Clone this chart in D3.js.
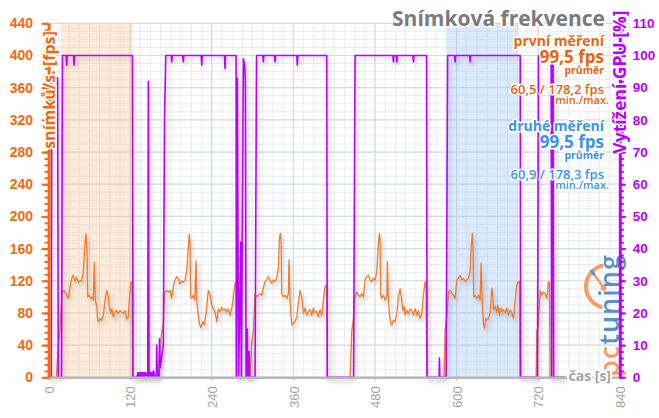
<!DOCTYPE html>
<html><head><meta charset="utf-8">
<script src="https://cdn.jsdelivr.net/npm/d3@7/dist/d3.min.js"></script>
<style>
body{margin:0;background:#fff}
svg{display:block;font-family:"Open Sans",sans-serif}
</style></head><body>
<svg id="c" width="659" height="418"></svg>
<script>
// ---------- DATA ----------
const fpsTime = [0,11.6,14.3,16.8,19.3,21.6,24.1,26.6,29.0,31.5,34.0,36.3,38.8,41.3,43.7,46.2,48.7,51.0,53.1,55.0,56.5,57.5,59.9,61.9,63.8,65.8,67.2,68.7,70.8,72.2,73.7,75.6,78.1,80.5,83.0,85.5,87.8,89.3,91.4,92.8,95.2,97.7,100.2,102.5,105.0,107.5,109.9,112.4,114.9,117.2,118.7,120.8,122.7,123.4,
161.7,163.9,166.8,168.7,170.5,172.7,176.1,178.6,181.1,183.4,185.9,188.4,190.8,193.3,195.8,198.1,200.6,203.2,205.5,207.0,208.0,209.0,210.5,212.9,214.9,216.8,217.8,219.3,221.7,223.7,226.7,228.6,231.5,234.9,237.4,239.9,242.3,244.8,247.3,249.6,252.1,254.6,257.0,259.5,262.0,264.3,266.8,269.3,271.7,274.2,275.7,276.4,
296.3,298.5,301.4,303.6,306.1,311.0,313.5,315.8,318.3,320.8,323.2,325.7,328.2,330.5,333.0,335.5,337.9,339.4,340.8,341.9,342.9,345.3,347.8,350.3,352.6,353.6,355.1,356.6,358.0,360.0,362.5,365.0,367.3,369.8,372.3,373.8,374.7,377.2,379.7,382.0,384.5,387.0,389.4,391.9,394.4,396.7,399.2,401.7,404.1,406.6,409.1,410.0,
443.4,445.9,447.8,450.7,453.2,455.6,458.1,460.6,462.9,465.4,467.9,470.3,472.8,475.3,477.6,480.1,482.6,485.0,486.5,487.5,488.5,490.0,492.4,494.9,497.4,498.2,499.7,501.2,503.2,504.7,507.1,509.6,512.1,514.4,516.9,519.4,520.9,522.8,524.3,526.8,529.1,531.6,534.1,536.5,539.0,541.5,543.8,546.3,548.8,551.2,553.7,555.2,556.2,
581.6,583.1,586.1,588.0,590.5,593.0,595.3,597.8,600.3,602.7,605.2,607.7,610.0,612.5,615.0,617.4,619.9,621.4,623.3,624.3,625.3,627.3,629.8,632.1,634.6,636.1,637.6,639.4,640.9,643.0,644.5,646.8,649.3,651.8,653.3,654.2,656.7,659.2,660.6,663.0,665.1,666.9,668.9,671.4,673.9,676.2,678.7,681.2,683.6,686.1,688.6,690.9,692.4,693.0,
717.0,718.0,719.9,722.9,725.4,727.8,730.3,732.8,735.1,736.6,737.6,759.6];
const fpsValue = [0,0,40,58,102,108,106,102,98,112,123,127,120,124,118,120,120,131,162,178,158,100,102,98,100,96,143,96,88,71,69,73,71,77,96,108,100,88,79,85,75,81,83,79,83,81,79,83,73,75,96,118,118,0,
0,38,58,67,104,108,106,108,98,112,121,125,123,116,120,118,120,133,162,178,165,100,98,102,96,145,96,83,67,62,69,65,79,108,102,90,85,81,69,85,81,87,83,85,81,85,77,85,100,117,118,0,
0,40,59,104,100,104,102,111,119,121,125,121,117,121,119,123,135,171,179,171,104,100,102,98,104,146,96,75,65,67,69,75,92,108,100,88,79,86,77,82,84,77,86,80,82,75,84,77,96,113,115,0,
0,58,70,100,106,102,100,104,100,121,125,127,121,119,123,121,131,167,179,171,102,98,102,96,100,144,96,79,67,65,71,69,79,100,110,96,83,88,77,83,79,85,83,77,85,77,83,73,79,102,119,117,0,
0,58,80,106,108,104,102,98,121,123,127,121,123,119,121,123,131,162,179,154,100,102,98,102,96,142,96,67,61,73,71,73,80,111,100,84,88,80,90,77,86,82,84,80,86,77,84,80,73,96,115,119,119,0,
0,58,62,108,102,106,104,98,119,117,0,0];

const gpuTime = [0,4.0,4.7,13.2,14.3,19.0,20.4,25.8,26.6,27.4,36.6,37.4,38.2,123.3,124.2,130,131.5,132.6,133.7,134.8,135.9,137,138.1,139.2,140.3,141.4,142.5,145.8,146.7,147.7,149.9,151,152.1,153.2,154.3,156.5,158.6,159.0,159.9,161.7,162.4,163.1,164.3,168.7,170.5,172.3,
180.3,181.1,181.9,197.3,198.1,198.9,224.4,225.2,226,258.7,259.5,260.3,
275.7,276.1,277.6,279.4,282.6,283.5,286.4,288.5,289.4,290.4,292.3,293.0,294.8,295.5,303.6,305.8,
315,315.8,316.6,332.2,333.0,333.8,365,365.8,366.6,
409.0,409.8,448.5,450.7,
506.3,507.1,507.9,511.3,512.1,512.9,535.7,536.5,537.3,
555.9,556.6,574.3,574.7,575.3,584.6,586.8,
597,597.8,598.6,619.1,619.9,620.7,
693.5,694.2,718.9,720.4,739.0,739.7,740.8,741.9,742.7,759.6];
const gpuValue = [0,0,93,93,0,0,100,100,97,100,100,97,100,100,0,0,1.5,0,1.5,0,1.5,0,1.5,0,1.5,0,1.5,0,92,0,1.5,0,1.5,0,2,0,0,10,0,1,0,12,3,10,80,100,
100,98,100,100,98,100,100,97,100,100,96,100,
100,0,93,0,42,0,99,97,91,0,15,0,8,0,0,100,
100,98,100,100,98,100,100,97,100,
100,0,0,100,
100,98,100,100,98,100,100,98,100,
100,0,0,6,0,0,100,
100,98,100,100,98,100,
100,0,0,100,100,0,98,98,0,0];

const bandStart = [18.2, 585.6];
const bandEnd   = [123.7, 690.5];

const xTicks = [0,120,240,360,480,600,720,840];
const fpsTicks = [0,40,80,120,160,200,240,280,320,360,400,440];
const gpuTicks = [0,10,20,30,40,50,60,70,80,90,100,110];

const chartTitle = "Snímková frekvence";
const fpsAxisTitle = "snímků/s. [fps]";
const gpuAxisTitle = "Vytížení GPU [%]";
const timeAxisTitle = "čas [s]";
const runNames = ["první měření","druhé měření"];
const avgFps = ["99,5 fps","99,5 fps"];
const avgLabel = "průměr";
const minMaxFps = ["60,5 / 178,2 fps","60,9 / 178,3 fps"];
const minMaxLabel = "min./max.";

// ---------- CHART ----------
const svg = d3.select("#c");
const L = 48.6, R = 619.8, T = 23.3, B = 377.3;
const x = d3.scaleLinear().domain([0,840]).range([L,R]);
const y = d3.scaleLinear().domain([0,440]).range([B,T]);
const yg = d3.scaleLinear().domain([0,110]).range([B,T]);

const ORANGE = "#f7680c", LINEOR = "#ee7b2e", PURPLE = "#bb00ff", BLUE = "#3b93ee", GRAY="#a4a4a4";

const defs = svg.append("defs");
const f = defs.append("filter").attr("id","sh").attr("x","-5%").attr("y","-5%").attr("width","115%").attr("height","115%");
f.append("feDropShadow").attr("dx",2).attr("dy",3).attr("stdDeviation",2).attr("flood-color","#000").attr("flood-opacity",0.22);

// grid
const minorY = d3.range(0,441,10), minorX = d3.range(0,841,15);
const grid = svg.append("g");
grid.selectAll(".my").data(minorY).join("line")
  .attr("x1",L).attr("x2",R).attr("y1",d=>y(d)).attr("y2",d=>y(d))
  .attr("stroke","#eaecf1").attr("stroke-width",1);
grid.selectAll(".mx").data(minorX).join("line")
  .attr("y1",T).attr("y2",B).attr("x1",d=>x(d)).attr("x2",d=>x(d))
  .attr("stroke","#eaecf1").attr("stroke-width",1);
grid.selectAll(".My").data(fpsTicks).join("line")
  .attr("x1",L).attr("x2",R).attr("y1",d=>y(d)).attr("y2",d=>y(d))
  .attr("stroke","#d9dce4").attr("stroke-width",1.2);
grid.selectAll(".Mx").data(xTicks).join("line")
  .attr("y1",T).attr("y2",B).attr("x1",d=>x(d)).attr("x2",d=>x(d))
  .attr("stroke","#d9dce4").attr("stroke-width",1.2);

// bands
const bandFill = ["rgba(250,190,130,0.3)","rgba(135,185,245,0.3)"];
svg.selectAll(".band").data(bandStart).join("rect")
  .attr("x",(d)=>x(d)).attr("width",(d,i)=>x(bandEnd[i])-x(d))
  .attr("y",T).attr("height",B-T).attr("fill",(d,i)=>bandFill[i]);

// logo
const logo = svg.append("g").attr("opacity",0.9);
logo.append("path").attr("transform","translate(607.5,286.5)")
  .attr("d", d3.arc()({innerRadius:19.5,outerRadius:23.5,startAngle:-166*Math.PI/180,endAngle:-11*Math.PI/180}))
  .attr("fill","#f5925a");
logo.append("line").attr("x1",603.5).attr("y1",287.5).attr("x2",593).attr("y2",273)
  .attr("stroke","#f5925a").attr("stroke-width",2.5);
logo.append("line").attr("x1",594.5).attr("y1",275).attr("x2",591).attr("y2",270)
  .attr("stroke","#4a86c5").attr("stroke-width",3);
logo.append("circle").attr("cx",603.5).attr("cy",288).attr("r",3).attr("fill","#f5925a");
const lt = logo.append("text").attr("transform","translate(619,377) rotate(-90)")
  .style("font-size","27px").style("font-weight","600").style("letter-spacing","1px");
lt.append("tspan").text("pc").attr("fill","#f5925a");
lt.append("tspan").text("tuning").attr("fill","#4a86c5");

// lines
const fpsData = fpsTime.map((t,i)=>[t,fpsValue[i]]);
const gpuData = gpuTime.map((t,i)=>[t,gpuValue[i]]);
svg.append("path").datum(fpsData)
  .attr("d", d3.line().x(d=>x(d[0])).y(d=>y(d[1])))
  .attr("fill","none").attr("stroke",LINEOR).attr("stroke-width",1.3)
  .attr("stroke-linejoin","round").attr("filter","url(#sh)");
svg.append("path").datum(gpuData)
  .attr("d", d3.line().x(d=>x(d[0])).y(d=>yg(d[1])))
  .attr("fill","none").attr("stroke",PURPLE).attr("stroke-width",1.6)
  .attr("stroke-linejoin","round").attr("filter","url(#sh)");

// bottom axis
const gB = svg.append("g").attr("transform",`translate(0,${B})`)
  .call(d3.axisBottom(x).tickValues(xTicks).tickSize(3).tickSizeOuter(0));
gB.select(".domain").attr("stroke","#b8b8b8").attr("stroke-width",2.5);
gB.selectAll(".tick line").attr("stroke","#b8b8b8").attr("stroke-width",1.5);
gB.selectAll(".tick text").attr("transform","rotate(-90)").attr("x",-9).attr("y",0).attr("dy","0.36em")
  .style("text-anchor","end").style("font-size","13px").attr("fill",GRAY);

// left axis
const gLm = svg.append("g").attr("transform",`translate(${L},0)`)
  .call(d3.axisLeft(y).tickValues(d3.range(0,441,8)).tickSize(4).tickFormat(""));
const gL = svg.append("g").attr("transform",`translate(${L},0)`)
  .call(d3.axisLeft(y).tickValues(fpsTicks).tickSize(7).tickPadding(8.6).tickSizeOuter(0));
[gLm,gL].forEach(g=>{g.selectAll(".tick line").attr("stroke",ORANGE).attr("stroke-width",2);});
gLm.select(".domain").remove();
gL.select(".domain").attr("stroke",ORANGE).attr("stroke-width",3);
gL.selectAll(".tick text").attr("fill",ORANGE).style("font-size","14px").style("font-weight","bold");

// right axis
const gRm = svg.append("g").attr("transform",`translate(${R},0)`)
  .call(d3.axisRight(yg).tickValues(d3.range(0,111,2)).tickSize(4).tickFormat(""));
const gR = svg.append("g").attr("transform",`translate(${R},0)`)
  .call(d3.axisRight(yg).tickValues(gpuTicks).tickSize(6).tickPadding(7).tickSizeOuter(0));
[gRm,gR].forEach(g=>{g.selectAll(".tick line").attr("stroke",PURPLE).attr("stroke-width",2);});
gRm.select(".domain").remove();
gR.select(".domain").attr("stroke",PURPLE).attr("stroke-width",3);
gR.selectAll(".tick text").attr("fill",PURPLE).style("font-size","13.5px").style("font-weight","bold");

// texts with halo
function halo(sel,w){return sel.attr("stroke","#fff").attr("stroke-width",w||3).attr("stroke-linejoin","round").style("paint-order","stroke");}

halo(svg.append("text").attr("transform","translate(54.5,90) rotate(-90)")
  .attr("text-anchor","middle").style("font-size","16px").style("font-weight","bold")
  .attr("fill",ORANGE).text(fpsAxisTitle),3);
halo(svg.append("text").attr("transform","translate(625.5,82) rotate(-90)")
  .attr("text-anchor","middle").style("font-size","17.5px").style("font-weight","bold")
  .attr("fill",PURPLE).text(gpuAxisTitle),3);
halo(svg.append("text").attr("x",611).attr("y",381).attr("text-anchor","end")
  .style("font-size","14px").style("font-weight","bold").attr("fill",GRAY).text(timeAxisTitle),4);

halo(svg.append("text").attr("x",605).attr("y",26).attr("text-anchor","end")
  .style("font-size","21px").style("font-weight","bold").attr("fill","#7a7a7a").text(chartTitle),3);

const legColors = [ "#ea640c", BLUE ];
const legY = [46,131];
runNames.forEach((name,i)=>{
  const c = legColors[i], y0 = legY[i];
  const rows = [
    [name, 14, "bold", y0, 604],
    [avgFps[i], 17, "bold", y0+17, 604],
    [avgLabel, 10.5, "bold", y0+28, 604],
    [minMaxFps[i], 13, "600", y0+48, 604],
    [minMaxLabel, 11, "600", y0+58, 609]
  ];
  rows.forEach(r=>{
    halo(svg.append("text").attr("x",r[4]).attr("y",r[3]).attr("text-anchor","end")
      .style("font-size",r[1]+"px").style("font-weight",r[2]).attr("fill",c).text(r[0]),3);
  });
});
</script>
</body></html>
